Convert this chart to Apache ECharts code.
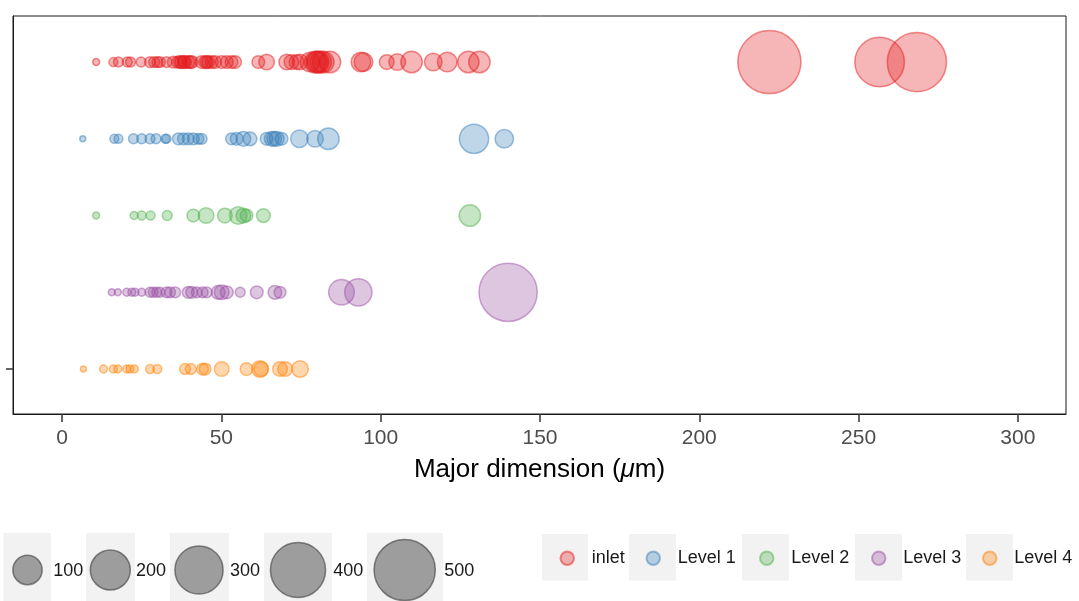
<!DOCTYPE html>
<html>
<head>
<meta charset="utf-8">
<script src="https://cdn.jsdelivr.net/npm/echarts@6/dist/echarts.min.js"></script>
<style>html,body{margin:0;padding:0;background:#fff}#c{width:1079px;height:601px}</style>
</head>
<body>
<div id="c"></div>
<script>
// ---------- DATA ----------
const groups = ['inlet', 'Level 1', 'Level 2', 'Level 3', 'Level 4'];
const groupRow = [4, 3, 2, 1, 0];
const xTicks = [0, 50, 100, 150, 200, 250, 300];
const sizeBreaks = [100, 200, 300, 400, 500];

const inletX = [10.7, 16.1, 17.7, 20.5, 21.5, 24.8, 27.6, 28.9, 29.9, 30.7, 32.8,
  34.9, 36.2, 37.0, 37.5, 38.2, 38.6, 39.6, 40.2, 40.7, 43.8, 44.9, 45.4, 45.9, 47.0, 48.0,
  50.1, 51.7, 53.2, 54.3, 61.6, 64.2, 70.5, 72.0, 73.6, 74.7,
  77.8, 79.4, 80.0, 80.4, 81.2, 82.0, 84.1, 93.8, 94.6,
  101.9, 105.2, 109.7, 116.5, 120.9, 127.5, 131.0, 222.0, 256.6, 268.3];
const inletSize = [0.6, 2.4, 3.8, 3.8, 3.8, 3.8, 5.4, 5.4, 5.4, 5.4, 5.4,
  7.4, 7.4, 9.6, 9.6, 9.6, 9.6, 9.6, 9.6, 9.6, 9.6, 9.6, 9.6, 9.6, 9.6, 9.6,
  9.6, 9.6, 9.6, 9.6, 9.6, 18, 18, 15, 15, 18,
  34, 43, 43, 43, 43, 43, 43, 34, 30,
  15, 21.6, 43, 25.4, 34, 43, 43, 541, 318, 471];

const l1X = [6.5, 16.4, 17.7, 22.4, 25.0, 27.6, 29.5, 32.4, 32.8,
  36.5, 38.1, 39.6, 41.2, 42.8, 43.8, 53.2, 54.8, 56.9, 59.0,
  64.2, 65.8, 66.6, 67.4, 68.9, 74.5, 79.4, 83.6, 129.3, 138.8];
const l1Size = [0.15, 2.4, 2.4, 3.8, 3.8, 3.8, 3.8, 2.4, 2.4,
  7.4, 7.4, 7.4, 7.4, 5.4, 5.4, 7.4, 9.6, 15, 12.2,
  9.6, 15, 15, 15, 9.6, 25.4, 21.6, 43, 94, 29];

const l2X = [10.7, 22.6, 25.0, 27.8, 33.0, 41.2, 45.2, 51.1, 55.3, 56.9, 57.9, 63.2, 128.0];
const l2Size = [0.6, 1.35, 2.4, 2.4, 3.8, 9.6, 18, 15, 25.4, 15, 9.6, 12.2, 43];

const l3X = [15.6, 17.5, 20.3, 21.9, 22.9, 25.0, 27.6, 28.6, 29.7, 30.7, 32.8, 33.9, 35.5,
  39.6, 40.7, 42.3, 44.1, 45.4, 49.0, 50.1, 51.7, 55.9, 61.1, 66.8, 68.4, 87.7, 93.0, 140.0];
const l3Size = [0.6, 0.6, 1.35, 1.35, 1.35, 1.35, 3.8, 3.8, 3.8, 3.8, 5.4, 5.4, 5.4,
  7.4, 7.4, 5.4, 5.4, 5.4, 12.2, 15, 9.6, 3.8, 9.6, 12.2, 7.4, 68, 79.5, 454];

const l4X = [6.7, 13.0, 16.1, 17.5, 20.3, 21.3, 22.7, 27.6, 29.9, 38.6, 40.4, 44.1, 44.9,
  50.1, 57.9, 62.1, 62.5, 68.4, 70.0, 74.7];
const l4Size = [0.15, 1.35, 1.35, 1.35, 1.35, 1.35, 1.35, 2.4, 2.4, 5.4, 5.4, 7.4, 7.4,
  15, 9.6, 21.6, 15, 15, 15, 21.6];

const allX = [inletX, l1X, l2X, l3X, l4X];
const allSize = [inletSize, l1Size, l2Size, l3Size, l4Size];
const colors = ['228,26,28', '55,126,184', '77,175,74', '152,78,163', '255,127,0'];

// ---------- CHART ----------
const diam = v => 6.5 + 2.5 * Math.sqrt(Math.max(0, v));
const FONT = "'Liberation Sans', Helvetica, Arial, sans-serif";

const series = groups.map((g, gi) => ({
  name: g,
  type: 'scatter',
  data: allX[gi].map((x, i) => [x, groupRow[gi], allSize[gi][i]]),
  symbolSize: val => diam(val[2]) - 1.5,
  itemStyle: {
    color: 'rgba(' + colors[gi] + ',0.40)',
    borderColor: 'rgba(' + colors[gi] + ',0.6)',
    borderWidth: 1.5
  },
  emphasis: { disabled: true }
}));

const legendCenters = [566.5, 652.5, 766, 878, 989];
const legends = groups.map((g, gi) => ({
  data: [g],
  left: legendCenters[gi] - 7,
  top: 549.3,
  padding: 0,
  icon: 'circle',
  itemWidth: 39,
  itemHeight: 13.5,
  selectedMode: false,
  textStyle: { fontSize: 18, color: '#1a1a1a', fontFamily: FONT }
}));

const graphics = [];
// colour legend key backgrounds
const colorBoxes = [[542, 46], [629, 47], [742, 47], [855, 47], [966, 47]];
colorBoxes.forEach(b => graphics.push({
  type: 'rect', z: -1, shape: { x: b[0], y: 534, width: b[1], height: 46.5 },
  style: { fill: '#F2F2F2' }
}));
// size legend
const sizeBoxes = [[3.3, 47.7], [86, 49], [170, 59], [264, 68], [367, 76]];
const sizeCx = [27.5, 110.3, 199, 298, 404.7];
const sizeLabelX = [53.3, 136, 230, 333.3, 444.3];
sizeBreaks.forEach((v, i) => {
  graphics.push({ type: 'rect', z: -1, shape: { x: sizeBoxes[i][0], y: 533, width: sizeBoxes[i][1], height: 80 }, style: { fill: '#F2F2F2' } });
  graphics.push({ type: 'circle', shape: { cx: sizeCx[i], cy: 570, r: (5 + 2.58 * Math.sqrt(v) - 1.5) / 2 },
    style: { fill: 'rgba(100,100,100,0.6)', stroke: 'rgba(60,60,60,0.6)', lineWidth: 1.5 } });
  graphics.push({ type: 'text', x: sizeLabelX[i], y: 571,
    style: { text: String(v), fill: '#1a1a1a', font: '18px ' + FONT, verticalAlign: 'middle', align: 'left' } });
});

const chart = echarts.init(document.getElementById('c'), null, { renderer: 'canvas' });
chart.setOption({
  animation: false,
  backgroundColor: '#fff',
  grid: { left: 13, right: 13, top: 16, bottom: 187, show: true, borderColor: '#1a1a1a', borderWidth: 1, containLabel: false },
  xAxis: {
    type: 'value', min: -15.4, max: 315.1,
    splitLine: { show: false },
    axisLine: { show: true, onZero: false, lineStyle: { color: '#1a1a1a', width: 1 } },
    axisTick: { show: true, length: 8, customValues: xTicks, lineStyle: { color: '#333', width: 1.5 } },
    axisLabel: { customValues: xTicks, margin: 14, fontSize: 21, color: '#4D4D4D', fontFamily: FONT },
    name: '{n|Major dimension (}{i|μ}{n|m)}',
    nameLocation: 'middle',
    nameGap: 42.5,
    nameTextStyle: {
      rich: {
        n: { fontSize: 26, color: '#000', fontFamily: FONT },
        i: { fontSize: 26, color: '#000', fontFamily: FONT, fontStyle: 'italic' }
      }
    }
  },
  yAxis: {
    type: 'value', min: -0.586, max: 4.6,
    splitLine: { show: false },
    axisLine: { show: true, onZero: false, lineStyle: { color: '#1a1a1a', width: 1 } },
    axisTick: { show: true, length: 7, customValues: [0], lineStyle: { color: '#333', width: 1.5 } },
    axisLabel: { show: false }
  },
  legend: legends,
  graphic: graphics,
  series: series
});
</script>
</body>
</html>
